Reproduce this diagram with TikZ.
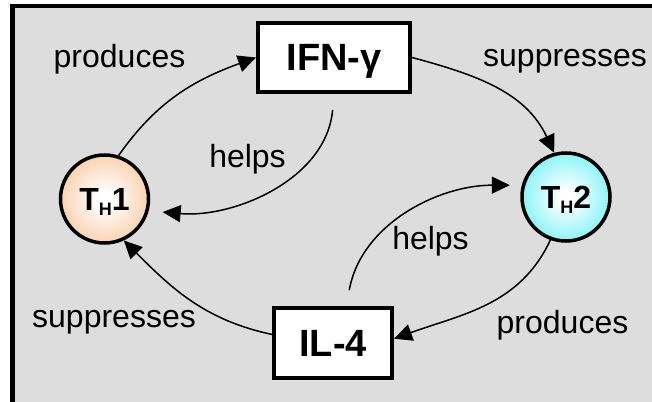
\documentclass[tikz,border=0pt]{standalone}
\usepackage{fontspec}
\setmainfont{Liberation Sans}
\usetikzlibrary{arrows.meta}

\definecolor{bggray}{RGB}{221,221,221}
\definecolor{thonecol}{RGB}{248,192,144}
\definecolor{thtwocol}{RGB}{90,240,245}
\pgfdeclareradialshading{thoneball}{\pgfpoint{0bp}{0bp}}{color(0bp)=(white);color(4bp)=(white);color(34bp)=(thonecol);color(50bp)=(thonecol)}
\pgfdeclareradialshading{thtwoball}{\pgfpoint{0bp}{0bp}}{color(0bp)=(white);color(4bp)=(white);color(34bp)=(thtwocol);color(50bp)=(thtwocol)}

\begin{document}
\begin{tikzpicture}[x=1pt,y=1pt,
    cell/.style={circle,draw,line width=3.5pt,minimum size=88pt,inner sep=0pt,text depth=0pt,font=\bfseries\fontsize{32}{32}\selectfont},
    cyto/.style={draw,line width=4pt,fill=white,inner sep=0pt,text depth=0pt,font=\bfseries\fontsize{38}{38}\selectfont},
    lbl/.style={font=\fontsize{32}{32}\selectfont},
    arr/.style={line width=1.5pt,-{Triangle[length=18pt,width=17pt]}}]
    \useasboundingbox (0,0) rectangle (652,-401);
    \draw[line width=4.5pt,fill=bggray] (12.5,-5.8) rectangle (720,-450);
    \node[cyto,minimum width=152pt,minimum height=69pt] (ifn) at (334,-57.5) {IFN-γ};
    \node[cyto,minimum width=118pt,minimum height=70pt] (il4) at (333,-343) {IL-4};
    \node[cell,shading=thoneball] (th1) at (104.5,-199) {T\raisebox{-5pt}{\fontsize{18}{18}\selectfont H}1};
    \node[cell,shading=thtwoball] (th2) at (566,-197) {T\raisebox{-5pt}{\fontsize{18}{18}\selectfont H}2};
    \node[lbl] (prodtop) at (119.5,-59.5) {produces};
    \node[lbl] (supptop) at (565,-61) {suppresses};
    \node[lbl] (helpstop) at (247.5,-159.5) {helps};
    \node[lbl] (helpsbot) at (430.5,-241.5) {helps};
    \node[lbl] (suppbot) at (114,-322.5) {suppresses};
    \node[lbl] (prodbot) at (562.5,-325.7) {produces};
    \draw[arr] (th1.72) to[out=55,in=200] (ifn.west);
    \draw[arr] (ifn.east) to[out=-15,in=115] (th2.105);
    \draw[arr,shorten <=16pt,shorten >=14pt] (ifn.south) to[out=-95,in=-5] (th1.-15);
    \draw[arr,shorten <=16pt,shorten >=12pt] (il4.70) to[out=80,in=180] (th2.165);
    \draw[arr] (th2.-110) to[out=-115,in=20] (il4.4);
    \draw[arr] (il4.172) to[out=168,in=-45] (th1.-65);
\end{tikzpicture}
\end{document}
